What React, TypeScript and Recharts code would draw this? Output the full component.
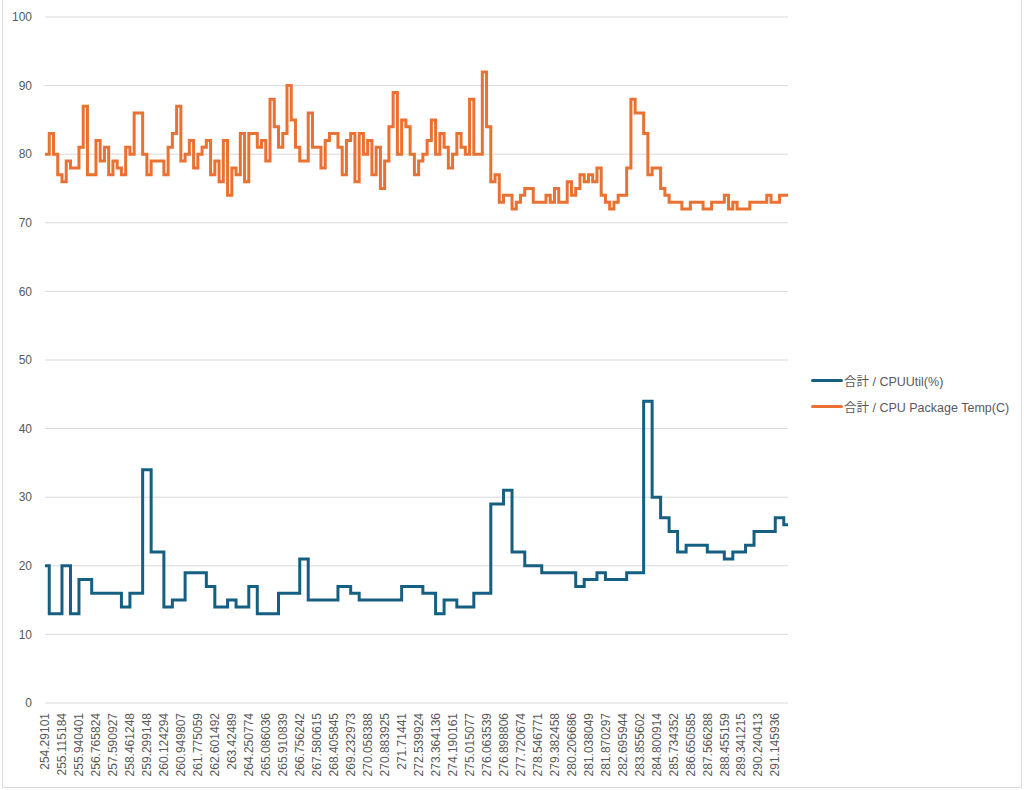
import { LineChart, Line, XAxis, YAxis, CartesianGrid, Legend } from 'recharts';

// x axis labels: elapsed time, one label every LABEL_STEP samples
const tickLabels = [
  '254.29101', '255.115184', '255.940401', '256.765824', '257.590927', '258.461248',
  '259.299148', '260.124294', '260.949807', '261.775059', '262.601492', '263.42489',
  '264.250774', '265.086036', '265.910839', '266.756242', '267.580615', '268.405845',
  '269.232973', '270.058388', '270.883925', '271.71441', '272.539924', '273.364136',
  '274.190161', '275.015077', '276.063539', '276.898806', '277.720674', '278.546771',
  '279.382458', '280.206686', '281.038049', '281.870297', '282.695944', '283.855602',
  '284.800914', '285.734352', '286.650585', '287.566288', '288.455159', '289.341215',
  '290.240413', '291.145936',
];
const LABEL_STEP = 4;

// 合計 / CPUUtil(%)
const cpuUtil = [
  20, 13, 13, 13, 20, 20, 13, 13, 18, 18,
  18, 16, 16, 16, 16, 16, 16, 16, 14, 14,
  16, 16, 16, 34, 34, 22, 22, 22, 14, 14,
  15, 15, 15, 19, 19, 19, 19, 19, 17, 17,
  14, 14, 14, 15, 15, 14, 14, 14, 17, 17,
  13, 13, 13, 13, 13, 16, 16, 16, 16, 16,
  21, 21, 15, 15, 15, 15, 15, 15, 15, 17,
  17, 17, 16, 16, 15, 15, 15, 15, 15, 15,
  15, 15, 15, 15, 17, 17, 17, 17, 17, 16,
  16, 16, 13, 13, 15, 15, 15, 14, 14, 14,
  14, 16, 16, 16, 16, 29, 29, 29, 31, 31,
  22, 22, 22, 20, 20, 20, 20, 19, 19, 19,
  19, 19, 19, 19, 19, 17, 17, 18, 18, 18,
  19, 19, 18, 18, 18, 18, 18, 19, 19, 19,
  19, 44, 44, 30, 30, 27, 27, 25, 25, 22,
  22, 23, 23, 23, 23, 23, 22, 22, 22, 22,
  21, 21, 22, 22, 22, 23, 23, 25, 25, 25,
  25, 25, 27, 27, 26, 26,
];

// 合計 / CPU Package Temp(C)
const cpuTemp = [
  80, 83, 80, 77, 76, 79, 78, 78, 81, 87,
  77, 77, 82, 79, 81, 77, 79, 78, 77, 81,
  80, 86, 86, 80, 77, 79, 79, 79, 77, 81,
  83, 87, 79, 80, 82, 78, 80, 81, 82, 77,
  79, 76, 82, 74, 78, 77, 83, 76, 83, 83,
  81, 82, 79, 88, 84, 81, 83,
  90, 85, 81, 79, 79, 86, 81, 81, 78, 82,
  83, 83, 81, 77, 82, 83, 76, 83, 80, 82,
  77, 81, 75, 79, 84, 89, 80, 85, 84, 80,
  77, 79, 80, 82, 85, 80, 83, 81, 78, 80,
  83, 81, 80, 88, 80, 80, 92, 84, 76, 77,
  73, 74, 74, 72, 73, 74, 75, 75,
  73, 73, 73, 74, 73, 75, 73, 73, 76, 74,
  75, 77, 76, 77, 76, 78, 74, 73, 72, 73,
  74, 74, 78, 88, 86, 86, 83, 77, 78, 78,
  75, 74, 73, 73, 73, 72, 72, 73, 73, 73,
  72, 72, 73, 73, 73, 74, 72, 73, 72, 72,
  72, 73, 73, 73, 73, 74, 73, 73, 74, 74, 74,
];

const yTicks = [0, 10, 20, 30, 40, 50, 60, 70, 80, 90, 100];
const legendOrder = ['cpu', 'temp'];

const data = cpuUtil.map((cpu, i) => ({ sample: i, cpu, temp: cpuTemp[i] }));
const xTicks = tickLabels.map((_, i) => i * LABEL_STEP);

const FONT = '"Liberation Sans", Arial, "Noto Sans CJK JP", sans-serif';
const TEXT = '#595959';

function XTick({ x, y, payload }: any) {
  return (
    <text
      x={x}
      y={y}
      transform={`rotate(-90, ${x}, ${y})`}
      textAnchor="end"
      dy="0.35em"
      fill={TEXT}
      fontSize={12}
      fontFamily={FONT}
    >
      {tickLabels[Math.round(payload.value / LABEL_STEP)]}
    </text>
  );
}

function LegendBox({ payload }: any) {
  const items = [...(payload || [])].sort(
    (a: any, b: any) => legendOrder.indexOf(a.dataKey) - legendOrder.indexOf(b.dataKey),
  );
  return (
    <div style={{ fontFamily: FONT, fontSize: 12.5, color: TEXT }}>
      {items.map((p: any) => (
        <div key={p.value} style={{ display: 'flex', alignItems: 'center', height: 26, whiteSpace: 'nowrap' }}>
          <span style={{ display: 'inline-block', width: 32, height: 3, background: p.color, borderRadius: 2, marginRight: 1 }} />
          <span>{p.value}</span>
        </div>
      ))}
    </div>
  );
}

export default function App() {
  return (
    <div style={{ position: 'absolute', left: 0, top: 0, width: 1024, height: 790, background: '#fff' }}>
      <div
        style={{
          position: 'absolute', left: 2, top: -1, width: 1020, height: 789,
          border: '1px solid #d9d9d9', boxSizing: 'border-box',
        }}
      />
      <LineChart width={1024} height={790} data={data} margin={{ top: 17, right: 236, bottom: 7, left: 0 }}>
        <CartesianGrid vertical={false} stroke="#d9d9d9" />
        <XAxis
          type="number"
          dataKey="sample"
          domain={[0, cpuUtil.length - 1]}
          ticks={xTicks}
          interval={0}
          height={80}
          axisLine={false}
          tickLine={false}
          tickSize={0}
          tickMargin={10}
          tick={<XTick />}
        />
        <YAxis
          domain={[0, 100]}
          ticks={yTicks}
          width={45}
          axisLine={false}
          tickLine={false}
          tickSize={0}
          tickMargin={13}
          tick={{ fill: TEXT, fontSize: 12, fontFamily: FONT }}
        />
        <Legend
          layout="vertical"
          align="center"
          verticalAlign="middle"
          wrapperStyle={{ left: 811, top: 367, width: 213 }}
          content={<LegendBox />}
        />
        <Line
          name="合計 / CPUUtil(%)"
          dataKey="cpu"
          type="stepAfter"
          stroke="#156082"
          strokeWidth={3}
          dot={false}
          activeDot={false}
          isAnimationActive={false}
        />
        <Line
          name="合計 / CPU Package Temp(C)"
          dataKey="temp"
          type="stepAfter"
          stroke="#E97132"
          strokeWidth={3}
          dot={false}
          activeDot={false}
          isAnimationActive={false}
        />
      </LineChart>
    </div>
  );
}
